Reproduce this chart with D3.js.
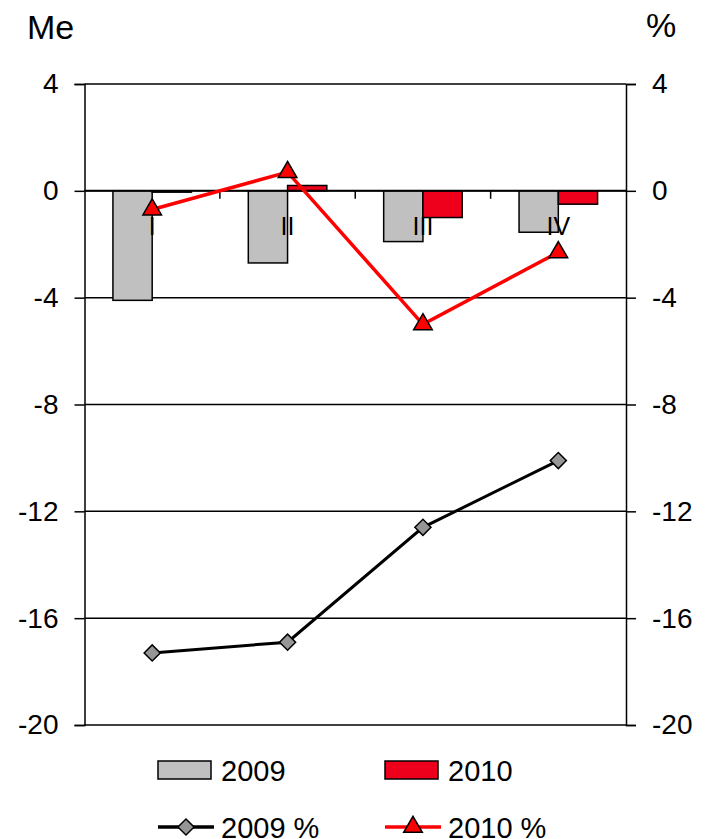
<!DOCTYPE html>
<html>
<head>
<meta charset="utf-8">
<script src="https://cdn.jsdelivr.net/npm/d3@7"></script>
<style>
  body { margin: 0; background: #fff; }
  svg { display: block; font-family: "Liberation Sans", Arial, sans-serif; }
</style>
</head>
<body>
<svg id="chart" width="707" height="839"></svg>
<script>
const categories = ["I", "II", "III", "IV"];
const bars2009 = [-4.1, -2.7, -1.9, -1.55];
const bars2010 = [-0.05, 0.2, -1.0, -0.5];
const pct2009 = [-17.3, -16.9, -12.6, -10.1];
const pct2010 = [-0.7, 0.7, -5.0, -2.3];
const yTicks = [4, 0, -4, -8, -12, -16, -20];
const seriesNames = ["2009", "2010", "2009 %", "2010 %"];

const svg = d3.select("#chart");
const L = 84.5, R = 626, T = 84, B = 725;

const x0 = d3.scaleBand().domain(categories).range([L, R]).paddingInner(0.42).paddingOuter(0.21);
const x1 = d3.scaleBand().domain(["2009", "2010"]).range([0, x0.bandwidth()]);
const yL = d3.scaleLinear().domain([-20, 4]).range([B, T]);
const yR = d3.scaleLinear().domain([-20, 4]).range([B, T]);
const xc = d => x0(d) + x0.bandwidth() / 2;
const fmt = d => String(d);

// gridlines
svg.append("g").selectAll("line").data(yTicks).join("line")
  .attr("x1", L).attr("x2", R).attr("y1", d => yL(d)).attr("y2", d => yL(d))
  .attr("stroke", "#000").attr("stroke-width", 1.5);

// left axis
const axL = svg.append("g").attr("transform", `translate(${L},0)`)
  .call(d3.axisLeft(yL).tickValues(yTicks).tickSize(10).tickPadding(16).tickFormat(fmt));
axL.select(".domain").attr("stroke-width", 1.5);
axL.selectAll(".tick line").attr("stroke-width", 1.5);
axL.selectAll("text").attr("font-size", 28).attr("font-family", "Liberation Sans, Arial, sans-serif").attr("fill", "#000");

const axR = svg.append("g").attr("transform", `translate(${R},0)`)
  .call(d3.axisRight(yR).tickValues(yTicks).tickSize(10).tickPadding(16).tickFormat(fmt));
axR.select(".domain").attr("stroke-width", 1.5);
axR.selectAll(".tick line").attr("stroke-width", 1.5);
axR.selectAll("text").attr("font-size", 28).attr("font-family", "Liberation Sans, Arial, sans-serif").attr("fill", "#000");

// bars
const barData = [];
categories.forEach((c, i) => {
  barData.push({c, s: "2009", v: bars2009[i], fill: "#c0c0c0"});
  barData.push({c, s: "2010", v: bars2010[i], fill: "#ee001c"});
});
svg.append("g").selectAll("rect").data(barData).join("rect")
  .attr("x", d => x0(d.c) + x1(d.s))
  .attr("width", x1.bandwidth())
  .attr("y", d => yL(Math.max(0, d.v)))
  .attr("height", d => Math.abs(yL(d.v) - yL(0)))
  .attr("fill", d => d.fill).attr("stroke", "#000").attr("stroke-width", 1.5);

// x axis at 0
svg.append("line").attr("x1", L).attr("x2", R).attr("y1", yL(0)).attr("y2", yL(0))
  .attr("stroke", "#000").attr("stroke-width", 2);
const bounds = categories.map(c => x0(c) - x0.step() * x0.paddingInner() / 2).slice(1);
svg.append("g").selectAll("line").data(bounds).join("line")
  .attr("x1", d => d).attr("x2", d => d).attr("y1", yL(0)).attr("y2", yL(0) + 8)
  .attr("stroke", "#000").attr("stroke-width", 1.5);

// category labels
svg.append("g").selectAll("text").data(categories).join("text")
  .attr("x", d => xc(d)).attr("y", yL(0) + 44)
  .attr("text-anchor", "middle").attr("font-size", 25).text(d => d);

// lines
const line = vals => d3.line().x((d, i) => xc(categories[i])).y(d => yR(d))(vals);
svg.append("path").attr("d", line(pct2010)).attr("fill", "none").attr("stroke", "#ff0000").attr("stroke-width", 3.5);
svg.append("path").attr("d", line(pct2009)).attr("fill", "none").attr("stroke", "#000").attr("stroke-width", 3);

const diamond = d3.symbol().type(d3.symbolSquare).size(130);
const tri = d3.symbol().type(d3.symbolTriangle).size(150);
svg.append("g").selectAll("path").data(pct2009).join("path")
  .attr("d", diamond)
  .attr("transform", (d, i) => `translate(${xc(categories[i])},${yR(d)}) rotate(45)`)
  .attr("fill", "#969696").attr("stroke", "#000").attr("stroke-width", 1.5);
svg.append("g").selectAll("path").data(pct2010).join("path")
  .attr("d", tri)
  .attr("transform", (d, i) => `translate(${xc(categories[i])},${yR(d)})`)
  .attr("fill", "#ff0000").attr("stroke", "#000").attr("stroke-width", 1.5);

// unit labels
svg.append("text").attr("x", 27).attr("y", 39).attr("font-size", 34).text("Me");
svg.append("text").attr("x", 646).attr("y", 37).attr("font-size", 34).text("%");

// legend
const lg = svg.append("g");
const legendPos = [
  {x: 158, y: 770, type: "bar", fill: "#c0c0c0", name: seriesNames[0]},
  {x: 385, y: 770, type: "bar", fill: "#ee001c", name: seriesNames[1]},
  {x: 158, y: 827, type: "line", stroke: "#000", sym: diamond, symFill: "#969696", rot: 45, name: seriesNames[2]},
  {x: 385, y: 827, type: "line", stroke: "#ff0000", sym: tri, symFill: "#ff0000", rot: 0, name: seriesNames[3]}
];
legendPos.forEach(d => {
  if (d.type === "bar") {
    lg.append("rect").attr("x", d.x).attr("y", d.y - 9).attr("width", 53).attr("height", 18)
      .attr("fill", d.fill).attr("stroke", "#000").attr("stroke-width", 1.5);
  } else {
    lg.append("line").attr("x1", d.x).attr("x2", d.x + 56).attr("y1", d.y).attr("y2", d.y)
      .attr("stroke", d.stroke).attr("stroke-width", 3.5);
    lg.append("path").attr("d", d.sym).attr("transform", `translate(${d.x + 28},${d.y}) rotate(${d.rot})`)
      .attr("fill", d.symFill).attr("stroke", "#000").attr("stroke-width", 1.5);
  }
  lg.append("text").attr("x", d.x + 63).attr("y", d.y + 10.5).attr("font-size", 29).text(d.name);
});
</script>
</body>
</html>
